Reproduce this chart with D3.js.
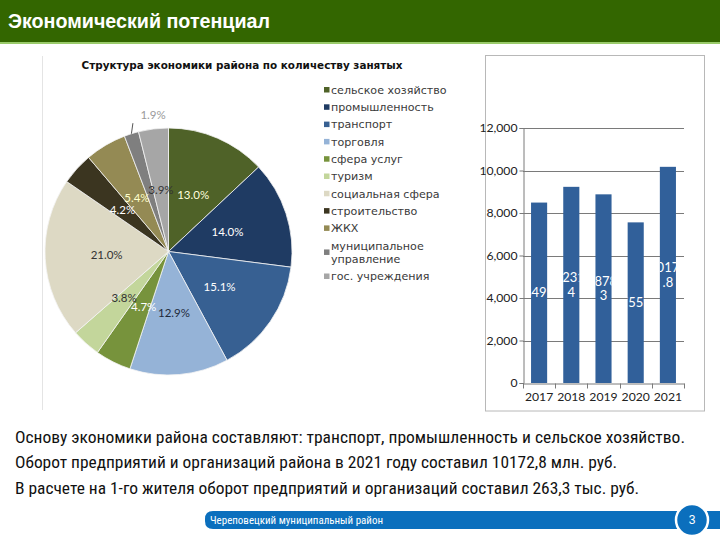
<!DOCTYPE html>
<html><head><meta charset="utf-8">
<script src="https://cdn.jsdelivr.net/npm/d3@7"></script>
<style>body{margin:0;background:#fff}svg{display:block}</style>
</head><body>
<script>
// ---- data ----
const pieCategories = ["сельское хозяйство","промышленность","транспорт","торговля","сфера услуг","туризм","социальная сфера","строительство","ЖКХ","муниципальное управление","гос. учреждения"];
const pieValues = [13.0, 14.0, 15.1, 12.9, 4.7, 3.8, 21.0, 4.2, 5.4, 1.9, 3.9];
const barYears = ["2017","2018","2019","2020","2021"];
const barValues = [8491, 9231.4, 8878.3, 7559, 10172.8];
const barLabelLines = [["8491"],["9231.","4"],["8878.","3"],["7559"],["10172",".8"]];
const yTicks = [0, 2000, 4000, 6000, 8000, 10000, 12000];
const titleText = "Экономический потенциал";
const pieTitle = "Структура экономики района по количеству занятых";
const bodyLines = [
  "Основу экономики района составляют: транспорт, промышленность и сельское хозяйство.",
  "Оборот предприятий и организаций района в 2021 году составил 10172,8 млн. руб.",
  "В расчете на 1-го жителя оборот предприятий и организаций составил 263,3 тыс. руб."
];
const footerText = "Череповецкий муниципальный район";
const pageNumber = "3";

// ---- styles ----
const pieColors = ["#4f6228","#1f3b63","#376092","#95b3d7","#77933c","#c3d69b","#ddd9c4","#3b3520","#948a54","#7f7f7f","#a6a6a6"];
const pieLabelColors = ["#ffffdd","#ffffff","#ffffff","#1f2a3a","#ffffff","#333333","#333333","#ffffff","#ffffcc","#333333","#333333"];

const svg = d3.select("body").append("svg").attr("width",720).attr("height",540);
svg.append("rect").attr("width",720).attr("height",540).attr("fill","#fff");

// header
svg.append("rect").attr("x",0).attr("y",0).attr("width",720).attr("height",42).attr("fill","#336600");
svg.append("rect").attr("x",0).attr("y",42).attr("width",720).attr("height",2).attr("fill","#9acb6a");
svg.append("text").attr("x",8).attr("y",28).attr("fill","#fff")
  .attr("font-family","'Liberation Sans', Arial, sans-serif").attr("font-weight","bold").attr("font-size",20)
  .attr("textLength",262).attr("lengthAdjust","spacingAndGlyphs").text(titleText);

// left chart faint frame line
svg.append("line").attr("x1",42.5).attr("x2",42.5).attr("y1",56).attr("y2",410).attr("stroke","#e4e4e4");

// pie title
svg.append("text").attr("x",242).attr("y",69).attr("text-anchor","middle").attr("fill","#111")
  .attr("font-family","'DejaVu Sans', Verdana, sans-serif").attr("font-weight","bold").attr("font-size",11)
  .attr("textLength",321).attr("lengthAdjust","spacingAndGlyphs").text(pieTitle);

// pie
const cx = 168.5, cy = 251.5, R = 123.5;
const pieG = svg.append("g").attr("transform",`translate(${cx},${cy})`);
const pie = d3.pie().sort(null).value(d=>d);
const arcs = pie(pieValues);
const arc = d3.arc().innerRadius(0).outerRadius(R);
const labelArc = d3.arc().innerRadius(62).outerRadius(62);
const edgeArc = d3.arc().innerRadius(R).outerRadius(R);
pieG.selectAll("path").data(arcs).join("path")
  .attr("d",arc).attr("fill",(d,i)=>pieColors[i]).attr("stroke","#f4f4f4").attr("stroke-width",0.8);
const fmt = d3.format(".1f");
arcs.forEach((d,i)=>{
  if (d.value < 3) {
    const p = edgeArc.centroid(d);
    pieG.append("line").attr("x1",p[0]).attr("y1",p[1]).attr("x2",p[0]+1.5).attr("y2",p[1]-10.5)
      .attr("stroke","#555").attr("stroke-width",1);
    pieG.append("text").attr("x",p[0]+9).attr("y",p[1]-14.5).attr("fill","#9a9a9a")
      .attr("font-family","Lato, 'Open Sans', sans-serif").attr("font-size",11.5)
      .text(fmt(d.value)+"%");
  } else {
    const p = labelArc.centroid(d);
    // nudge the two adjacent small slices apart slightly, as in the reference
    const dx = i === 5 ? -3 : (i === 4 ? 3 : 0);
    pieG.append("text").attr("x",p[0]+dx).attr("y",p[1]).attr("dy","0.35em").attr("text-anchor","middle")
      .attr("fill",pieLabelColors[i]).attr("font-family","Lato, 'Open Sans', sans-serif").attr("font-size",11.5)
      .text(fmt(d.value)+"%");
  }
});

// legend
const legG = svg.append("g").attr("font-family","'DejaVu Sans', Verdana, sans-serif").attr("font-size",11.1).attr("fill","#3a3a3a");
let ly = 90;
pieCategories.forEach((c,i)=>{
  const lines = c.length > 20 ? c.split(" ") : [c];
  const extra = (lines.length-1)*13.5;
  const mid = ly + extra/2;
  legG.append("rect").attr("x",324).attr("y",mid-3).attr("width",5.5).attr("height",5.5).attr("fill",pieColors[i]);
  lines.forEach((t,k)=>{
    legG.append("text").attr("x",331).attr("y",mid - (lines.length-1)*6.5 + k*13).attr("dy","0.35em").text(t);
  });
  ly += 17.3 + extra;
});

// bar chart frame
svg.append("rect").attr("x",485.5).attr("y",55.5).attr("width",219).attr("height",355.5)
  .attr("fill","none").attr("stroke","#b8b8b8").attr("stroke-width",1);

const x = d3.scaleBand().domain(barYears).range([523,684]).paddingInner(0.5).paddingOuter(0.25);
const y = d3.scaleLinear().domain([0,12000]).range([383,128]);
const bg = svg.append("g");
// gridlines
bg.selectAll("line.grid").data(yTicks.filter(v=>v>0)).join("line")
  .attr("x1",523).attr("x2",684).attr("y1",d=>Math.round(y(d))+0.5).attr("y2",d=>Math.round(y(d))+0.5)
  .attr("stroke","#7a7a7a").attr("stroke-width",1);
// bars
const defs = svg.append("defs");
barValues.forEach((v,i)=>{
  defs.append("clipPath").attr("id","bc"+i).append("rect")
    .attr("x",x(barYears[i])).attr("y",y(v)).attr("width",x.bandwidth()).attr("height",y(0)-y(v));
});
bg.selectAll("rect.bar").data(barValues).join("rect").attr("class","bar")
  .attr("x",(d,i)=>x(barYears[i])).attr("y",d=>y(d)).attr("width",x.bandwidth()).attr("height",d=>y(0)-y(d))
  .attr("fill","#31609a");
barValues.forEach((v,i)=>{
  const lines = barLabelLines[i];
  const cxm = x(barYears[i]) + x.bandwidth()/2;
  const cym = (y(v)+y(0))/2;
  const g = bg.append("g").attr("clip-path",`url(#bc${i})`);
  lines.forEach((t,k)=>{
    g.append("text").attr("x",cxm).attr("y",cym + (k-(lines.length-1)/2)*14.5).attr("dy","0.35em")
      .attr("text-anchor","middle").attr("fill","#fff").attr("font-family","Lato, 'Open Sans', sans-serif")
      .attr("font-size",13).text(t);
  });
});
// y axis
const yAxis = d3.axisLeft(y).tickValues(yTicks).tickFormat(d3.format(",")).tickSize(4).tickPadding(2);
const ya = svg.append("g").attr("transform","translate(523.5,0)").call(yAxis);
ya.select(".domain").attr("stroke","#7a7a7a");
ya.selectAll(".tick line").attr("stroke","#7a7a7a");
ya.selectAll(".tick text").attr("fill","#222").attr("font-family","Lato, 'Open Sans', sans-serif").attr("font-size",12.2);
// x axis
const xAxis = d3.axisBottom(x).tickSize(0).tickPadding(9);
const xa = svg.append("g").attr("transform","translate(0,383.5)").call(xAxis);
xa.select(".domain").attr("stroke","#7a7a7a");
xa.selectAll(".tick text").attr("fill","#222").attr("font-family","Lato, 'Open Sans', sans-serif").attr("font-size",12.2);
const bounds = d3.range(barYears.length+1).map(k=>x.range()[0] + k*x.step());
xa.selectAll("line.bt").data(bounds).join("line").attr("class","bt")
  .attr("x1",d=>Math.round(d)+0.5).attr("x2",d=>Math.round(d)+0.5).attr("y1",0).attr("y2",5).attr("stroke","#7a7a7a");

// body text
const bodyWidths = [670, 602, 624];
const bodyY = [443, 468, 494];
bodyLines.forEach((t,i)=>{
  svg.append("text").attr("x",15).attr("y",bodyY[i]).attr("fill","#111")
    .attr("font-family","'Liberation Sans Narrow', 'Roboto Condensed', Roboto, sans-serif").attr("font-size",16)
    .attr("textLength",bodyWidths[i]).attr("lengthAdjust","spacingAndGlyphs").text(t);
});

// footer
svg.append("path").attr("d","M213,511 H720 V529 H213 Q205,529 205,521 V519 Q205,511 213,511 Z").attr("fill","#0b6fbd");
svg.append("text").attr("x",210).attr("y",524).attr("fill","#fff")
  .attr("font-family","'Liberation Sans Narrow', 'Roboto Condensed', Roboto, sans-serif").attr("font-size",10.5)
  .attr("textLength",173).attr("lengthAdjust","spacingAndGlyphs").text(footerText);
svg.append("circle").attr("cx",692).attr("cy",520).attr("r",16).attr("fill","#0b6fbd").attr("stroke","#fff").attr("stroke-width",2.5);
svg.append("text").attr("x",692).attr("y",520).attr("dy","0.35em").attr("text-anchor","middle").attr("fill","#fff")
  .attr("font-family","'Liberation Sans', Arial, sans-serif").attr("font-size",12).text(pageNumber);
</script>
</body></html>
